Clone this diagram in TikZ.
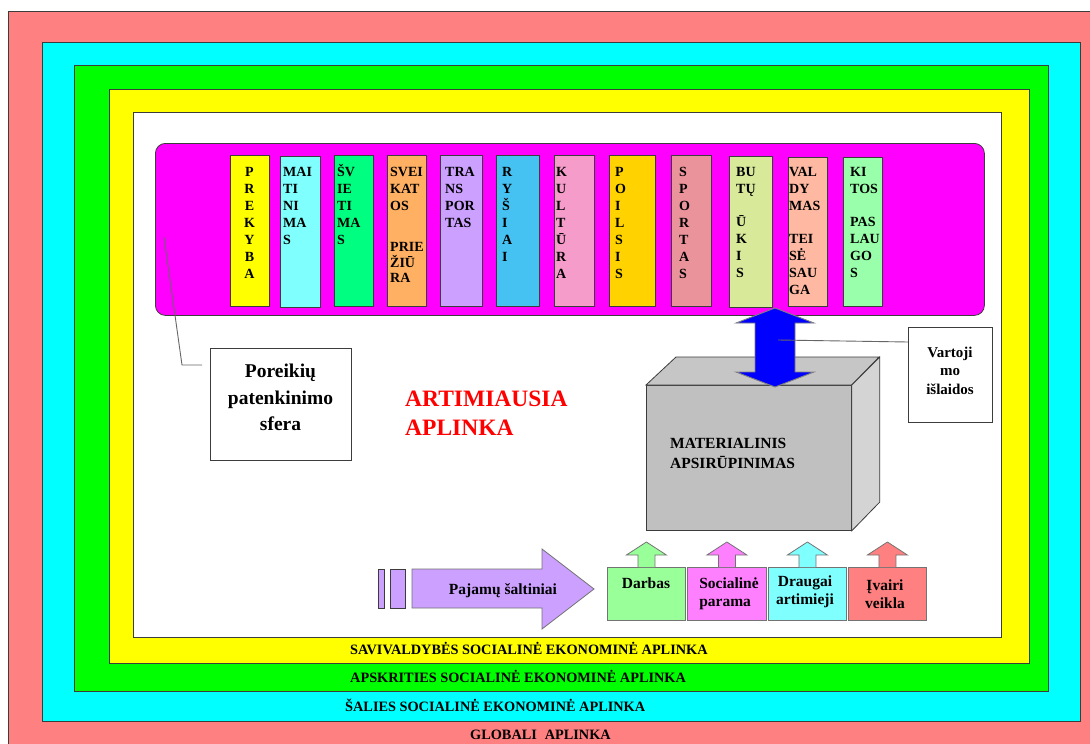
\documentclass[tikz,border=0pt]{standalone}
\usepackage{fontspec}
\setmainfont{Liberation Serif}
\definecolor{globalc}{RGB}{255,128,128}
\definecolor{cyanc}{RGB}{0,255,255}
\definecolor{greenc}{RGB}{0,255,0}
\definecolor{yellowc}{RGB}{255,255,0}
\definecolor{magc}{RGB}{255,0,255}
\definecolor{ca}{RGB}{255,255,0}
\definecolor{cb}{RGB}{128,255,255}
\definecolor{cc}{RGB}{0,255,128}
\definecolor{cd}{RGB}{255,176,98}
\definecolor{ce}{RGB}{204,160,255}
\definecolor{cf}{RGB}{70,194,242}
\definecolor{cg}{RGB}{245,156,203}
\definecolor{ch}{RGB}{255,210,0}
\definecolor{ci}{RGB}{234,147,155}
\definecolor{cj}{RGB}{216,233,154}
\definecolor{ck}{RGB}{255,185,162}
\definecolor{cl}{RGB}{153,255,170}
\definecolor{darbasc}{RGB}{153,255,153}
\definecolor{socc}{RGB}{255,128,255}
\definecolor{draugc}{RGB}{128,255,255}
\definecolor{ivairc}{RGB}{255,128,128}
\definecolor{lavc}{RGB}{204,160,255}
\definecolor{frontc}{RGB}{192,192,192}
\definecolor{topc}{RGB}{198,198,198}
\definecolor{sidec}{RGB}{212,212,212}
\definecolor{outl}{RGB}{60,60,60}
\newcommand\cstrut{\rule{0pt}{12.5pt}}
\begin{document}
\begin{tikzpicture}[x=1pt,y=-1pt,
  frame/.style={draw=outl, line width=0.8pt, anchor=north west, inner sep=0pt},
  colbox/.style={draw=outl, line width=0.8pt, anchor=north west, inner sep=0pt, minimum height=151pt},
  coltext/.style={font=\fontsize{14}{17}\selectfont\bfseries, align=left, anchor=north west, inner sep=0pt},
  envlabel/.style={font=\fontsize{14.3}{16}\selectfont\bfseries, anchor=west, inner sep=0pt},
  wbox/.style={draw=outl, line width=0.8pt, fill=white, anchor=north west, inner sep=0pt},
  srcbox/.style={draw=black!55, line width=0.8pt, anchor=north west, inner sep=0pt, minimum width=78pt, minimum height=53pt},
  srctext/.style={font=\fontsize{15.5}{18}\selectfont\bfseries, align=center, inner sep=0pt},
  upar/.style={draw=black!55, line width=0.8pt},
  callout/.style={draw=black!60, line width=0.9pt}
]
\useasboundingbox (0,0) rectangle (1090,744);
\fill[white] (0,0) rectangle (1090,744);
% nested environments
\node[frame, fill=globalc, minimum width=1100pt, minimum height=750pt] (global) at (8,11) {};
\node[frame, fill=cyanc, minimum width=1038pt, minimum height=679pt] (country) at (42,42) {};
\node[frame, fill=greenc, minimum width=974pt, minimum height=626pt] (county) at (74,65) {};
\node[frame, fill=yellowc, minimum width=920pt, minimum height=574pt] (munic) at (109,89) {};
\node[frame, fill=white, minimum width=868pt, minimum height=525pt] (near) at (133,112) {};
\node[frame, fill=magc, rounded corners=10pt, minimum width=829pt, minimum height=172pt] (sphere) at (155,143) {};

\node[envlabel] (lsav) at (350,648) {SAVIVALDYBĖS SOCIALINĖ EKONOMINĖ APLINKA};
\node[envlabel] (laps) at (350,676) {APSKRITIES SOCIALINĖ EKONOMINĖ APLINKA};
\node[envlabel] (lsal) at (345,705) {ŠALIES SOCIALINĖ EKONOMINĖ APLINKA};
\node[envlabel] (lglo) at (470,735) {GLOBALI\hspace{0.55em}APLINKA};

% columns
\node[colbox, fill=ca, minimum width=39pt] (k1) at (230,155) {};
\node[colbox, fill=cb, minimum width=40pt] (k2) at (280,156) {};
\node[colbox, fill=cc, minimum width=39pt] (k3) at (334,155) {};
\node[colbox, fill=cd, minimum width=39pt] (k4) at (387,155) {};
\node[colbox, fill=ce, minimum width=42pt] (k5) at (440,155) {};
\node[colbox, fill=cf, minimum width=43pt] (k6) at (496,155) {};
\node[colbox, fill=cg, minimum width=40pt] (k7) at (554,155) {};
\node[colbox, fill=ch, minimum width=46pt] (k8) at (609,155) {};
\node[colbox, fill=ci, minimum width=40pt] (k9) at (671,155) {};
\node[colbox, fill=cj, minimum width=43pt] (k10) at (729,156) {};
\node[colbox, fill=ck, minimum width=39pt, minimum height=149pt] (k11) at (788,157) {};
\node[colbox, fill=cl, minimum width=39pt, minimum height=149pt] (k12) at (843,157) {};

\node[coltext, align=center, anchor=north] (t1) at (249.5,164) {\cstrut P\\R\\E\\K\\Y\\B\\A};
\node[coltext] (t2) at (283,164) {\cstrut MAI\\TI\\NI\\MA\\S};
\node[coltext] (t3) at (337,164) {\cstrut ŠV\\IE\\TI\\MA\\S};
\node[coltext] (t4) at (390,164) {\cstrut SVEI\\KAT\\OS\\[24pt]PRIE\\[-1pt]ŽIŪ\\[-2pt]RA};
\node[coltext] (t5) at (445,164) {\cstrut TRA\\NS\\POR\\TAS};
\node[coltext] (t6) at (502,164) {\cstrut R\\Y\\Š\\I\\A\\I};
\node[coltext] (t7) at (556,164) {\cstrut K\\U\\L\\T\\Ū\\R\\A};
\node[coltext] (t8) at (615,164) {\cstrut P\\O\\I\\L\\S\\I\\S};
\node[coltext] (t9) at (679,164) {\cstrut S\\P\\O\\R\\T\\A\\S};
\node[coltext] (t10) at (736,164) {\cstrut BU\\TŲ\\[16pt]Ū\\K\\I\\S};
\node[coltext] (t11) at (789,164) {\cstrut VAL\\DY\\MAS\\[16pt]TEI\\SĖ\\SAU\\GA};
\node[coltext] (t12) at (850,164) {\cstrut KI\\TOS\\[16pt]PAS\\LAU\\GO\\S};

% needs sphere label
\node[wbox, minimum width=141pt, minimum height=112pt] (poreik) at (210,348) {};
\node[font=\fontsize{19.5}{26.5}\selectfont\bfseries, align=center, inner sep=0pt] (poreiktxt) at (280.5,397.5) {Poreikių\\patenkinimo\\sfera};
\coordinate (c1) at (164,237);
\coordinate (c2) at (182,365);
\draw[callout] (c1) -- (c2) -- ([xshift=-8pt]poreik.west |- c2);

% nearest environment label
\node[font=\fontsize{23.5}{29}\selectfont\bfseries, text=red, align=left, anchor=north west, inner sep=0pt] (near_lbl) at (405,390) {\rule{0pt}{16pt}ARTIMIAUSIA\\APLINKA};

% material box (3D)
\node[draw=outl, line width=0.8pt, fill=frontc, anchor=north west, inner sep=0pt, minimum width=205pt, minimum height=145pt] (mat) at (646,385) {};
\draw[draw=outl, line width=0.8pt, fill=topc] (mat.north west) -- ++(30,-28) -- ++(203,0) -- (mat.north east) -- cycle;
\draw[draw=outl, line width=0.8pt, fill=sidec] (mat.north east) -- ++(28,-28) -- ++(0,145) -- (mat.south east) -- cycle;
\node[font=\fontsize{15.5}{20}\selectfont\bfseries, align=left, anchor=north west, inner sep=0pt] (mattxt) at (670,437) {\rule{0pt}{11pt}MATERIALINIS\\APSIRŪPINIMAS};

% blue double arrow
\draw[draw=black!50, line width=0.9pt, fill=blue] (755,323) -- (736,323) -- (775,308) -- (814,323) -- (795,323) -- (795,372) -- (814,372) -- (775,387) -- (736,372) -- (755,372) -- cycle;
\coordinate (arrowpt) at (778,340);

% consumption box
\node[wbox, minimum width=84pt, minimum height=95pt] (varto) at (908,327) {};
\node[font=\fontsize{15}{18.5}\selectfont\bfseries, align=center, inner sep=0pt] (vartotxt) at (950,370.5) {Vartoji\\mo\\išlaidos};
\draw[callout] (varto.west |- 0,342) -- (arrowpt);

% income sources
\node[draw=outl, line width=0.8pt, fill=lavc, anchor=north west, inner sep=0pt, minimum width=6pt, minimum height=39pt] (bar1) at (378,569) {};
\node[draw=outl, line width=0.8pt, fill=lavc, anchor=north west, inner sep=0pt, minimum width=15pt, minimum height=39pt] (bar2) at (390,569) {};
\draw[draw=black!55, line width=0.8pt, fill=lavc] (412,569) -- (542,569) -- (542,549) -- (594,589) -- (542,629) -- (542,608) -- (412,608) -- cycle;
\node[font=\fontsize{15.5}{18}\selectfont\bfseries, inner sep=0pt] (income) at (503,591) {Pajamų šaltiniai};

\node[srcbox, fill=darbasc] (darbas) at (607,567) {};
\node[srcbox, fill=socc, minimum width=79pt] (soc) at (687,567) {};
\node[srcbox, fill=draugc] (draug) at (768,567) {};
\node[srcbox, fill=ivairc] (ivair) at (848,567) {};
\foreach \b/\c in {darbas/darbasc, soc/socc, draug/draugc, ivair/ivairc}{
  \draw[upar, fill=\c] (\b.north) ++(-8.5,0) -- ++(0,-12) -- ++(-11.5,0) -- ++(20,-13) -- ++(20,13) -- ++(-11.5,0) -- ++(0,12);
}
\node[srctext] (darbastxt) at (646,592.5) {Darbas\\\mbox{}};
\node[srctext, align=left] (soctxt) at (729,594) {Socialinė\\parama};
\node[srctext] (draugtxt) at (805,592) {Draugai\\artimieji};
\node[srctext] (ivairtxt) at (885,594) {Įvairi\\veikla};
\end{tikzpicture}
\end{document}
